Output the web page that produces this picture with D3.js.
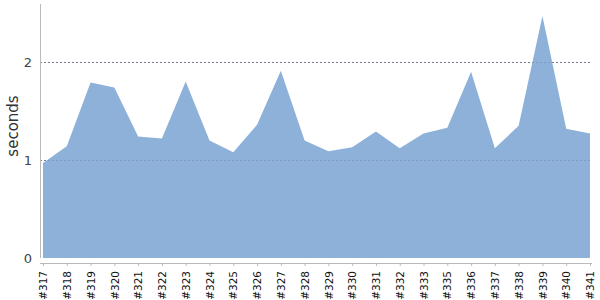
<!DOCTYPE html>
<html><head><meta charset="utf-8">
<script src="https://cdn.jsdelivr.net/npm/d3@7"></script>
<style>body{margin:0;background:#fff;} svg{display:block;font-family:"DejaVu Sans",sans-serif;}</style>
</head><body>
<svg id="c" width="600" height="300"></svg>
<script>
const categories = ["#317","#318","#319","#320","#321","#322","#323","#324","#325","#326","#327","#328","#329","#330","#331","#332","#333","#335","#336","#337","#338","#339","#340","#341"];
const seconds = [0.97,1.14,1.79,1.74,1.24,1.22,1.80,1.20,1.08,1.36,1.91,1.20,1.09,1.13,1.29,1.12,1.27,1.33,1.90,1.12,1.35,2.47,1.32,1.27];
const yTicks = [0,1,2];
const yLabel = "seconds";

const svg = d3.select("#c");
const x = d3.scalePoint().domain(categories).range([43,590]);
const y = d3.scaleLinear().domain([0,2.6]).range([258,3.2]);

// gridlines
svg.append("g").selectAll("line").data(yTicks.filter(d=>d>0)).join("line")
  .attr("x1",40).attr("x2",592).attr("y1",d=>y(d)).attr("y2",d=>y(d))
  .attr("stroke","#777").attr("stroke-width",1).attr("stroke-dasharray","2,2")
  .attr("shape-rendering","crispEdges");

// area
const area = d3.area().x((d,i)=>x(categories[i])).y0(y(0)).y1(d=>y(d));
svg.append("path").datum(seconds).attr("d",area).attr("fill","#8eb1da");

// redraw gridlines over area faintly
svg.append("g").selectAll("line").data(yTicks.filter(d=>d>0)).join("line")
  .attr("x1",40).attr("x2",592).attr("y1",d=>y(d)).attr("y2",d=>y(d))
  .attr("stroke","#6f86a8").attr("stroke-opacity",0.5).attr("stroke-width",1).attr("stroke-dasharray","2,2")
  .attr("shape-rendering","crispEdges");

// y axis
const yAxis = svg.append("g").attr("transform","translate(40,0)")
  .call(d3.axisLeft(y).tickValues(yTicks).tickSize(0).tickPadding(8).tickFormat(d3.format("d")));
yAxis.select(".domain").attr("stroke","#bbb").attr("d","M0.5,4V258");
yAxis.selectAll("text").attr("font-size",13).attr("fill","#444").attr("font-family","DejaVu Sans, sans-serif");

// x axis
const xAxis = svg.append("g").attr("transform","translate(0,263)")
  .call(d3.axisBottom(x).tickSize(3).tickPadding(4));
xAxis.select(".domain").attr("stroke","#bbb").attr("d","M40,0.5H592");
xAxis.selectAll(".tick line").attr("stroke","#bbb");
xAxis.selectAll("text").attr("font-size",10.5).attr("fill","#111")
  .attr("font-family","DejaVu Sans, sans-serif")
  .attr("text-anchor","end").attr("dy","0.35em")
  .attr("transform","translate(0,4) rotate(-90)").attr("x",-4).attr("y",0);

// y label
svg.append("text").attr("transform","translate(18,126) rotate(-90)")
  .attr("text-anchor","middle").attr("font-size",15).attr("fill","#333")
  .attr("font-weight","500")
  .text(yLabel);
</script>
</body></html>
